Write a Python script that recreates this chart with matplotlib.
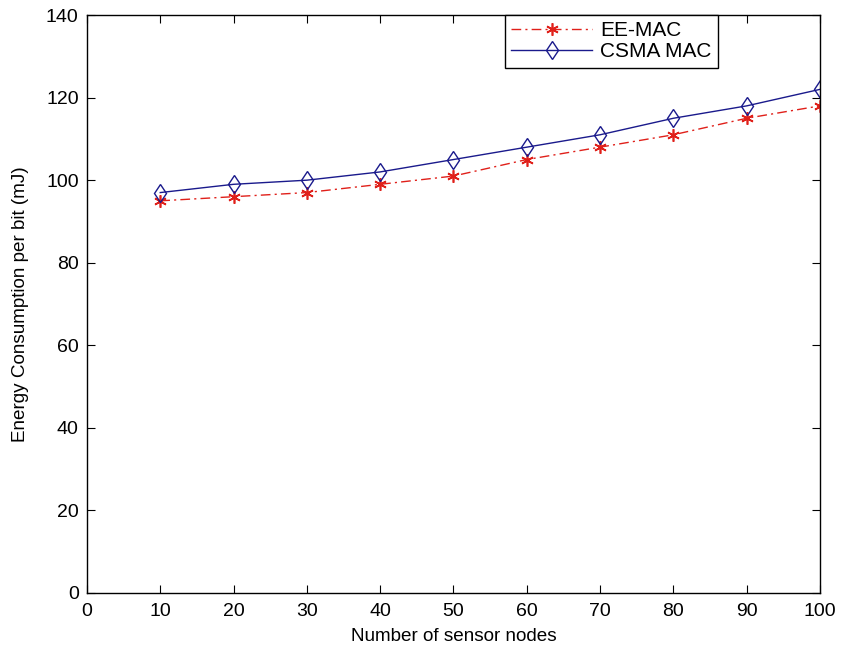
import matplotlib
matplotlib.use("Agg")
import matplotlib.pyplot as plt

nodes = [10, 20, 30, 40, 50, 60, 70, 80, 90, 100]
ee_mac = [95, 96, 97, 99, 101, 105, 108, 111, 115, 118]
csma_mac = [97, 99, 100, 102, 105, 108, 111, 115, 118, 122]
xticks = [0, 10, 20, 30, 40, 50, 60, 70, 80, 90, 100]
yticks = [0, 20, 40, 60, 80, 100, 120, 140]

plt.rcParams['font.family'] = ['Liberation Sans', 'DejaVu Sans']

fig = plt.figure(figsize=(8.41, 6.55), dpi=100)
ax = fig.add_axes([0.1034, 0.0947, 0.8716, 0.8823])

ax.plot(nodes, ee_mac, color='#e0201a', linestyle=(0, (7, 3, 1.5, 3)), linewidth=1.0,
        marker=(6, 2, 0), markersize=9, markeredgewidth=1.2, label='EE-MAC')
ax.plot(nodes, csma_mac, color='#1a1a8c', linestyle='-', linewidth=1.0,
        marker='d', markersize=9.5, markerfacecolor='none', markeredgewidth=1.0,
        label='CSMA MAC')

ax.set_xlim(0, 100)
ax.set_ylim(0, 140)
ax.set_xticks(xticks)
ax.set_yticks(yticks)
ax.tick_params(direction='in', top=True, right=True, labelsize=14, length=6)
ax.tick_params(axis='x', pad=7)
ax.tick_params(axis='y', pad=6)
for s in ax.spines.values():
    s.set_linewidth(1.0)
ax.set_xlabel('Number of sensor nodes', fontsize=13.6, labelpad=6)
ax.set_ylabel('Energy Consumption per bit (mJ)', fontsize=13.6, labelpad=12)

leg = ax.legend(loc='upper right', bbox_to_anchor=(0.861, 1.0), borderaxespad=0,
                fontsize=15, fancybox=False, framealpha=1, edgecolor='black',
                handlelength=3.9, handletextpad=0.4, borderpad=0.3, labelspacing=0.1)
leg.get_frame().set_linewidth(1.0)

fig.savefig('out.png', dpi=100)
